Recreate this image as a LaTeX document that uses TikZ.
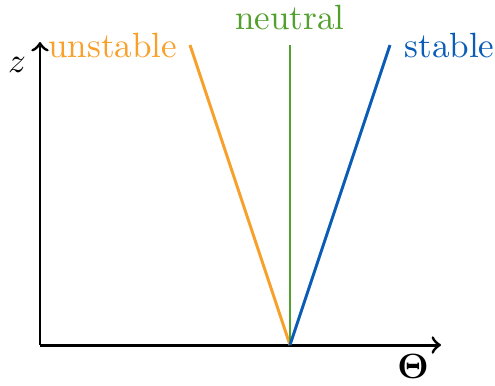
\documentclass[tikz,border=0pt]{standalone}
\definecolor{cunst}{RGB}{248,160,42}
\definecolor{cneu}{RGB}{82,160,45}
\definecolor{cstab}{RGB}{10,92,182}
\begin{document}
\begin{tikzpicture}[x=0.285pt,y=-0.285pt,
  axis/.style={line width=0.85pt,->},
  prof/.style={line width=0.85pt},
  lbl/.style={inner sep=0pt}]
\useasboundingbox (0,0) rectangle (495,385);
\coordinate (O) at (40,345);
\coordinate (zt) at (40,42);
\coordinate (xt) at (441,345);
\coordinate (P) at (290,345);
\coordinate (U) at (190,45);
\coordinate (N) at (290,45);
\coordinate (S) at (390,45);
\draw[axis] (O) -- (zt);
\draw[axis] (O) -- (xt);
\draw[prof,cunst] (P) -- (U);
\draw[prof,cneu] (P) -- (N);
\draw[prof,cstab] (P) -- (S);
\node[lbl,anchor=base east,text=cunst] (lu) at (178,57) {unstable};
\node[lbl,anchor=base,text=cneu] (ln) at (290,29) {neutral};
\node[lbl,anchor=base west,text=cstab] (ls) at (404,57) {stable};
\node[lbl] (lz) at (17,65) {$z$};
\node[lbl,anchor=base] (lt) at (413,378) {$\mathbf{\Theta}$};
\end{tikzpicture}
\end{document}
